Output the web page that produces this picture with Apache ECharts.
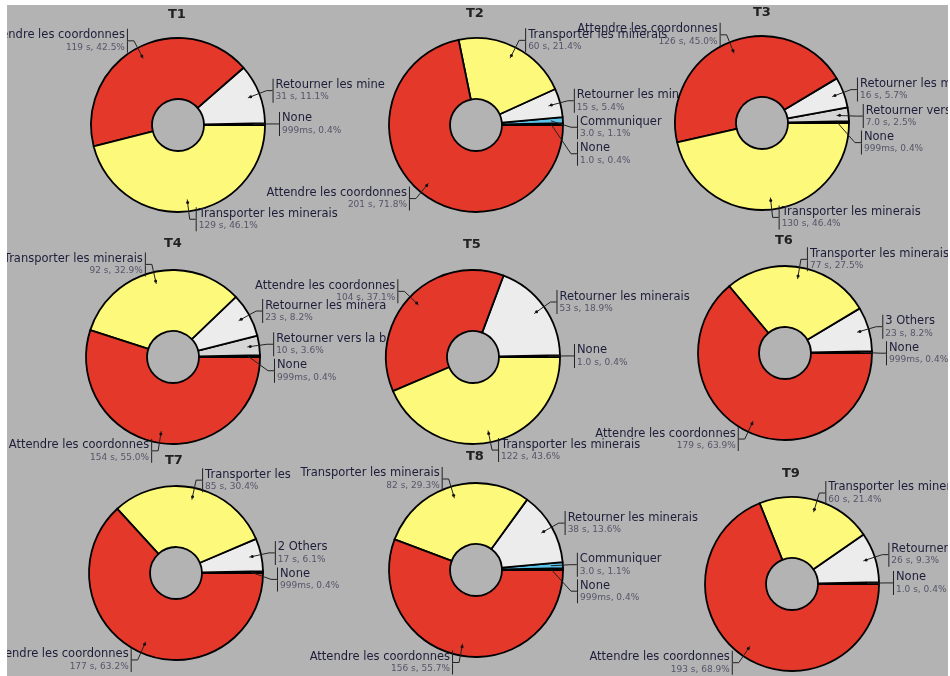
<!DOCTYPE html>
<html><head><meta charset="utf-8">
<script src="https://cdn.jsdelivr.net/npm/echarts@6/dist/echarts.min.js"></script>
<style>
html,body{margin:0;padding:0;background:#fff;width:950px;height:676px;overflow:hidden}
#c{position:absolute;left:7px;top:5px;width:941px;height:671px}
</style>
</head><body><div id="c"></div>
<script>
// ---- data (counter-clockwise order starting at 3 o'clock) ----
const titles = ['T1','T2','T3','T4','T5','T6','T7','T8','T9'];
const t1Names = ['None','Retourner les minerais','Attendre les coordonnes','Transporter les minerais'];
const t1Values = [0.999, 31, 119, 129];
const t2Names = ['None','Communiquer','Retourner les minerais','Transporter les minerais','Attendre les coordonnes'];
const t2Values = [1.0, 3.0, 15, 60, 201];
const t3Names = ['None','Retourner vers la base','Retourner les minerais','Attendre les coordonnes','Transporter les minerais'];
const t3Values = [0.999, 7.0, 16, 126, 130];
const t4Names = ['None','Retourner vers la base','Retourner les minerais','Transporter les minerais','Attendre les coordonnes'];
const t4Values = [0.999, 10, 23, 92, 154];
const t5Names = ['None','Retourner les minerais','Attendre les coordonnes','Transporter les minerais'];
const t5Values = [1.0, 53, 104, 122];
const t6Names = ['None','3 Others','Transporter les minerais','Attendre les coordonnes'];
const t6Values = [0.999, 23, 77, 179];
const t7Names = ['None','2 Others','Transporter les minerais','Attendre les coordonnes'];
const t7Values = [0.999, 17, 85, 177];
const t8Names = ['None','Communiquer','Retourner les minerais','Transporter les minerais','Attendre les coordonnes'];
const t8Values = [0.999, 3.0, 38, 82, 156];
const t9Names = ['None','Retourner les minerais','Transporter les minerais','Attendre les coordonnes'];
const t9Values = [1.0, 26, 60, 193];

const allNames = [t1Names,t2Names,t3Names,t4Names,t5Names,t6Names,t7Names,t8Names,t9Names];
const allValues = [t1Values,t2Values,t3Values,t4Values,t5Values,t6Values,t7Values,t8Values,t9Values];

// ---- styles / layout ----
const palette = {
  'None':'#111111',
  'Communiquer':'#5cc3ea',
  'Retourner les minerais':'#ececec',
  'Retourner vers la base':'#d6d6d6',
  '3 Others':'#ececec',
  '2 Others':'#ececec',
  'Transporter les minerais':'#fdf97b',
  'Attendre les coordonnes':'#e4382a'
};
const OFF_X = 7;
const centers = [[171,120],[469,120],[755,118],[166,352],[466,352],[778,348],[169,568],[469,565],[785,579]];
const titlePos = [[170,10.5],[468,10],[755,8.5],[166,240],[465,241],[777,237],[167,457],[468,453],[784,470]];
// page-x where a label is cut by the neighbouring panel (per panel, per label name)
const clipRight = [
  {'Retourner les minerais':389},
  {'Retourner les minerais':682,'Transporter les minerais':682},
  {},
  {'Retourner les minerais':389,'Retourner vers la base':389},
  {}, {},
  {'Transporter les minerais':297},
  {}, {}
];
const R_IN = 26, R_OUT = 87, R_DOT = 75;
const FONT = 'DejaVu Sans';

function fmtVal(v){
  if (v < 1) return Math.round(v*1000) + 'ms';
  if (v < 10) return v.toFixed(1) + ' s';
  return Math.round(v) + ' s';
}

const rich = {
  nR:{fontFamily:FONT,fontSize:11.5,color:'#1d1d3a',lineHeight:13,align:'left'},
  vR:{fontFamily:FONT,fontSize:9,color:'#55556a',lineHeight:11,align:'left'},
  nL:{fontFamily:FONT,fontSize:11.5,color:'#1d1d3a',lineHeight:13,align:'right'},
  vL:{fontFamily:FONT,fontSize:9,color:'#55556a',lineHeight:11,align:'right'},
  bR1:{width:1,height:13,backgroundColor:'#222',align:'left'},
  bR2:{width:1,height:11,backgroundColor:'#222',align:'left'},
  bL1:{width:1,height:13,backgroundColor:'#222',align:'right'},
  bL2:{width:1,height:11,backgroundColor:'#222',align:'right'},
  sR:{width:2,height:1,align:'left'},
  sL:{width:2,height:1,align:'right'}
};

const series = [];
const title = [];
allNames.forEach((names, i) => {
  const vals = allValues[i];
  const sum = vals.reduce((a,b)=>a+b,0);
  let cum = 0;
  const sides = vals.map(v => { const mid = (cum + v/2)/sum*2*Math.PI; cum += v; return Math.cos(mid) > 0; });
  const pcts = vals.map(v => v/sum*100);
  const data = names.map((n,k) => ({name:n, value:vals[k], itemStyle:{color:palette[n]}}));
  const dataT = names.map((n,k) => ({name:n, value:vals[k]}));
  const common = {type:'pie', center:centers[i], startAngle:0, clockwise:false, silent:true,
    animation:false, emphasis:{disabled:true}, avoidLabelOverlap:true,
    labelLayout:{hideOverlap:false}};
  // visible ring
  series.push(Object.assign({}, common, {
    radius:[R_IN, R_OUT], z:2, data:data,
    itemStyle:{borderColor:'#000', borderWidth:1.8},
    label:{show:false}, labelLine:{show:false}
  }));
  // label carrier (lines start at the dot radius)
  const clips = clipRight[i];
  series.push(Object.assign({}, common, {
    radius:[0, R_DOT], z:3, data:dataT,
    itemStyle:{color:'rgba(0,0,0,0)', borderWidth:0},
    labelLayout: p => {
      const c = clips[names[p.dataIndex]];
      if (c == null || p.align !== 'left') return {hideOverlap:false};
      return {hideOverlap:false, width: Math.max(8, c - OFF_X - p.labelRect.x)};
    },
    label:{show:true, position:'outside', distanceToLabelLine:0, width:280, overflow:'truncate', ellipsis:'',
      rich:rich,
      formatter: p => {
        const k = p.dataIndex;
        const line2 = fmtVal(vals[k]) + ', ' + pcts[k].toFixed(1) + '%';
        if (sides[k]) return '{bR1|}{sR|}{nR|' + names[k] + '}\n{bR2|}{sR|}{vR|' + line2 + '}';
        return '{nL|' + names[k] + '}{sL|}{bL1|}\n{vL|' + line2 + '}{sL|}{bL2|}';
      }},
    labelLine:{show:true, length:20, length2:6, smooth:false, lineStyle:{color:'#222', width:1}}
  }));
  // dots inside slices
  series.push(Object.assign({}, common, {
    radius:[63, R_OUT], z:4, data:dataT,
    itemStyle:{color:'rgba(0,0,0,0)', borderWidth:0},
    label:{show:true, position:'inside',
      formatter: p => pcts[p.dataIndex] < 2 ? '' : '{d|}',
      rich:{d:{width:3,height:3,backgroundColor:'#111',borderRadius:1.5}}},
    labelLine:{show:false}
  }));
  title.push({text:titles[i], left:titlePos[i][0]-9, top:titlePos[i][1]-7.5, padding:0,
    textStyle:{fontFamily:FONT, fontSize:13, fontWeight:'bold', color:'#222'}});
});

const chart = echarts.init(document.getElementById('c'), null, {renderer:'canvas'});
chart.setOption({
  backgroundColor:'#b3b3b3',
  animation:false,
  title:title,
  series:series
});
</script>
</body></html>
